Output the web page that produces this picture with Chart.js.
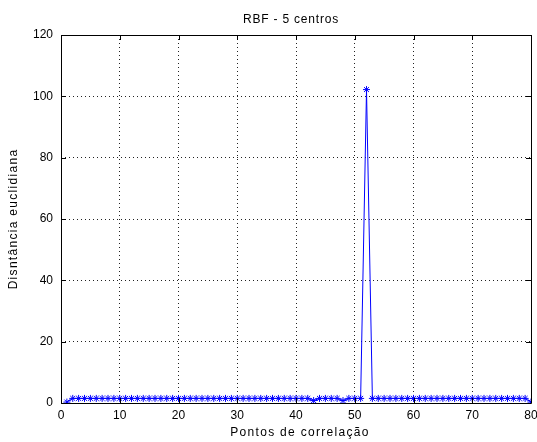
<!DOCTYPE html>
<html>
<head>
<meta charset="utf-8">
<script src="https://cdn.jsdelivr.net/npm/chart.js@4/dist/chart.umd.min.js"></script>
<style>
  html, body { margin: 0; padding: 0; background: #fff; }
  #wrap { width: 537px; height: 442px; }
</style>
</head>
<body>
<div id="wrap"><canvas id="c"></canvas></div>
<script>
// points 1..80
const pontos = [1, 2, 3, 4, 5, 6, 7, 8, 9, 10, 11, 12, 13, 14, 15, 16, 17, 18, 19, 20,
    21, 22, 23, 24, 25, 26, 27, 28, 29, 30, 31, 32, 33, 34, 35, 36, 37, 38, 39, 40,
    41, 42, 43, 44, 45, 46, 47, 48, 49, 50, 51, 52, 53, 54, 55, 56, 57, 58, 59, 60,
    61, 62, 63, 64, 65, 66, 67, 68, 69, 70, 71, 72, 73, 74, 75, 76, 77, 78, 79, 80];

const distancia = [0.3, 1.5, 1.5, 1.5, 1.5, 1.5, 1.5, 1.5, 1.5, 1.5, 1.5, 1.5, 1.5, 1.5, 1.5, 1.5, 1.5, 1.5, 1.5, 1.5,
    1.5, 1.5, 1.5, 1.5, 1.5, 1.5, 1.5, 1.5, 1.5, 1.5, 1.5, 1.5, 1.5, 1.5, 1.5, 1.5, 1.5, 1.5, 1.5, 1.5,
    1.5, 1.5, 0.8, 1.5, 1.5, 1.5, 1.5, 0.8, 1.5, 1.5, 1.5, 102.2, 1.5, 1.5, 1.5, 1.5, 1.5, 1.5, 1.5, 1.5,
    1.5, 1.5, 1.5, 1.5, 1.5, 1.5, 1.5, 1.5, 1.5, 1.5, 1.5, 1.5, 1.5, 1.5, 1.5, 1.5, 1.5, 1.5, 1.5, 0.3];

const xTicks = [0, 10, 20, 30, 40, 50, 60, 70, 80];
const yTicks = [0, 20, 40, 60, 80, 100, 120];

const titulo = 'RBF - 5 centros';
const xLabel = 'Pontos de correlação';
const yLabel = 'Disntância euclidiana';

const FONT = "'Liberation Sans', Arial, sans-serif";

// matlab style box with inward ticks on all sides, plus the spaced-out labels
const boxPlugin = {
    id: 'box',
    afterDraw(chart) {
        const ctx = chart.ctx;
        const a = chart.chartArea;
        const xs = chart.scales.x, ys = chart.scales.y;
        const len = 5;
        ctx.save();
        ctx.strokeStyle = '#000';
        ctx.lineWidth = 1;
        ctx.beginPath();
        ctx.rect(Math.round(a.left) + 0.5, Math.round(a.top) + 0.5, Math.round(a.right - a.left), Math.round(a.bottom - a.top));
        for (const t of xTicks) {
            const px = Math.round(xs.getPixelForValue(t)) + 0.5;
            ctx.moveTo(px, a.bottom); ctx.lineTo(px, a.bottom - len);
            ctx.moveTo(px, a.top); ctx.lineTo(px, a.top + len);
        }
        for (const t of yTicks) {
            const py = Math.round(ys.getPixelForValue(t)) + 0.5;
            ctx.moveTo(a.left, py); ctx.lineTo(a.left + len, py);
            ctx.moveTo(a.right, py); ctx.lineTo(a.right - len, py);
        }
        ctx.stroke();

        // texts
        ctx.fillStyle = '#000';
        ctx.font = '12px ' + FONT;
        ctx.textAlign = 'center';
        ctx.textBaseline = 'middle';
        ctx.letterSpacing = '0.8px';
        ctx.fillText(titulo, 291, 20);
        ctx.letterSpacing = '1.3px';
        ctx.fillText(xLabel, 300, 433);
        ctx.translate(14, 219);
        ctx.rotate(-Math.PI / 2);
        ctx.fillText(yLabel, 0, 0);
        ctx.restore();
    }
};

new Chart(document.getElementById('c'), {
    type: 'line',
    data: {
        labels: pontos,
        datasets: [{
            label: 'distancia',
            data: pontos.map((p, i) => ({ x: p, y: distancia[i] })),
            borderColor: '#0000ff',
            backgroundColor: '#0000ff',
            borderWidth: 1,
            pointStyle: 'star',
            pointRadius: 3.5,
            pointBorderWidth: 1,
            pointBorderColor: '#0000ff',
            tension: 0
        }]
    },
    options: {
        responsive: true,
        maintainAspectRatio: false,
        animation: false,
        layout: { padding: { left: 0, right: 6, top: 35, bottom: 0 } },
        plugins: {
            legend: { display: false },
            tooltip: { enabled: false },
            title: { display: false }
        },
        scales: {
            x: {
                type: 'linear',
                min: 0, max: 80,
                afterBuildTicks: (s) => { s.ticks = xTicks.map(v => ({ value: v })); },
                afterFit: (s) => { s.height = 39; s.paddingLeft = 0; s.paddingRight = 0; },
                grid: { color: '#222', lineWidth: 1, drawTicks: false },
                border: { display: false, dash: [1, 3] },
                ticks: { color: '#000', padding: 5, font: { family: FONT, size: 12 }, maxRotation: 0 }
            },
            y: {
                min: 0, max: 120,
                afterBuildTicks: (s) => { s.ticks = yTicks.map(v => ({ value: v })); },
                afterFit: (s) => { s.width = 61; s.paddingTop = 0; s.paddingBottom = 0; },
                grid: { color: '#222', lineWidth: 1, drawTicks: false },
                border: { display: false, dash: [1, 3] },
                ticks: { color: '#000', padding: 8, font: { family: FONT, size: 12 } }
            }
        }
    },
    plugins: [boxPlugin]
});
</script>
</body>
</html>
